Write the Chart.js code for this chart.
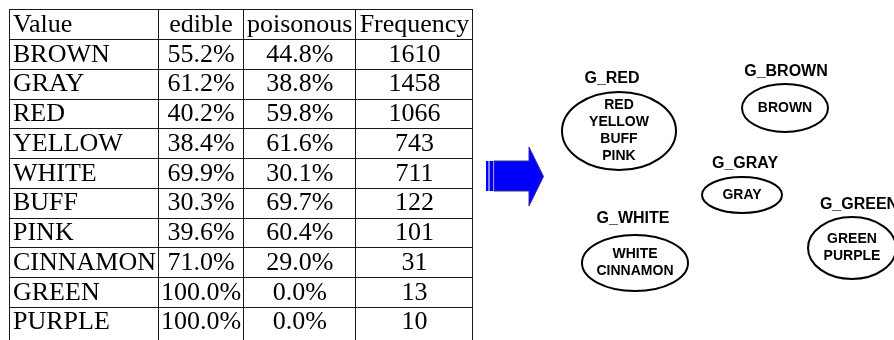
<!DOCTYPE html>
<html>
<head>
<meta charset="utf-8">
<script src="https://cdn.jsdelivr.net/npm/chart.js@4/dist/chart.umd.min.js"></script>
<style>
  html, body { margin: 0; padding: 0; background: #fff; }
  canvas { display: block; }
</style>
</head>
<body>
<canvas id="chart" width="894" height="340"></canvas>
<script>
// table data
const headers = ["Value", "edible", "poisonous", "Frequency"];
const colorValues = ["BROWN", "GRAY", "RED", "YELLOW", "WHITE", "BUFF", "PINK", "CINNAMON", "GREEN", "PURPLE"];
const edible = [55.2, 61.2, 40.2, 38.4, 69.9, 30.3, 39.6, 71.0, 100.0, 100.0];
const poisonous = [44.8, 38.8, 59.8, 61.6, 30.1, 69.7, 60.4, 29.0, 0.0, 0.0];
const frequency = [1610, 1458, 1066, 743, 711, 122, 101, 31, 13, 10];

// grouping data
const groupNames = ["G_RED", "G_BROWN", "G_GRAY", "G_WHITE", "G_GREEN"];
const groupMembers = [
  ["RED", "YELLOW", "BUFF", "PINK"],
  ["BROWN"],
  ["GRAY"],
  ["WHITE", "CINNAMON"],
  ["GREEN", "PURPLE"],
];

// layout (canvas units, mapped through the hidden linear scales)
const colEdges = [9, 157.5, 242.5, 355, 472];
const rowTop = 9.3;
const rowHeight = 29.75;
const groupShapes = [
  { cx: 619, cy: 131, rx: 57, ry: 39, lx: 612, ly: 79 },
  { cx: 785, cy: 108, rx: 43, ry: 24, lx: 786, ly: 72 },
  { cx: 742, cy: 195, rx: 40, ry: 18, lx: 745, ly: 164 },
  { cx: 635, cy: 263, rx: 53, ry: 28, lx: 633, ly: 219 },
  { cx: 852, cy: 248, rx: 44, ry: 31, lx: 859, ly: 205 },
];
const arrowShape = [[529, 161], [529, 147], [543.5, 176.5], [529, 206], [529, 191], [494, 191], [494, 161]];
const arrowStripes = [[486, 2.5], [489.5, 3.5]];

const fmt = (v) => v.toFixed(1) + "%";

const drawPlugin = {
  id: "drawPlugin",
  afterDraw: (chart) => {
    const c = chart.ctx;
    const xs = chart.scales.x;
    const ys = chart.scales.y;
    const X = (v) => xs.getPixelForValue(v);
    const Y = (v) => ys.getPixelForValue(v);
    const snap = (p) => Math.round(p) + 0.5;

    c.save();
    // table grid
    c.strokeStyle = "#1a1a1a";
    c.lineWidth = 1;
    const rows = [headers].concat(
      colorValues.map((name, i) => [name, fmt(edible[i]), fmt(poisonous[i]), String(frequency[i])])
    );
    rows.forEach((row, r) => {
      const top = rowTop + r * rowHeight;
      c.beginPath();
      c.moveTo(X(colEdges[0]), snap(Y(top)));
      c.lineTo(X(colEdges[colEdges.length - 1]) + 1, snap(Y(top)));
      c.stroke();
    });
    colEdges.forEach((e) => {
      c.beginPath();
      c.moveTo(snap(X(e)), Y(rowTop));
      c.lineTo(snap(X(e)), Y(340));
      c.stroke();
    });

    // table text
    c.fillStyle = "#000";
    c.font = "26px 'Liberation Serif'";
    c.textBaseline = "alphabetic";
    rows.forEach((row, r) => {
      const base = Y(rowTop + r * rowHeight + 22.5);
      row.forEach((txt, k) => {
        if (k === 0) {
          c.textAlign = "left";
          c.fillText(txt, X(colEdges[0] + 4), base);
        } else {
          c.textAlign = "center";
          c.fillText(txt, (X(colEdges[k]) + X(colEdges[k + 1])) / 2 + 1, base);
        }
      });
    });

    // arrow
    c.fillStyle = "#0000ff";
    c.strokeStyle = "#3a2aa0";
    c.lineWidth = 1;
    c.beginPath();
    arrowShape.forEach(([ax, ay], i) => {
      if (i === 0) c.moveTo(X(ax), Y(ay));
      else c.lineTo(X(ax), Y(ay));
    });
    c.closePath();
    c.fill();
    c.stroke();
    arrowStripes.forEach(([sx, w]) => {
      c.fillRect(X(sx), Y(161), w, Y(191) - Y(161));
    });

    // groups
    c.strokeStyle = "#000";
    c.fillStyle = "#000";
    c.lineWidth = 2;
    c.textAlign = "center";
    c.textBaseline = "middle";
    groupNames.forEach((name, g) => {
      const s = groupShapes[g];
      c.beginPath();
      c.ellipse(X(s.cx), Y(s.cy), s.rx, s.ry, 0, 0, Math.PI * 2);
      c.stroke();
      c.font = "bold 16px 'Liberation Sans'";
      c.fillText(name, X(s.lx), Y(s.ly));
      c.font = "bold 14px 'Liberation Sans'";
      const members = groupMembers[g];
      const lh = 17;
      members.forEach((m, i) => {
        const my = s.cy + (i - (members.length - 1) / 2) * lh;
        c.fillText(m, X(s.cx), Y(my));
      });
    });
    c.restore();
  },
};

const ctx = document.getElementById("chart").getContext("2d");
new Chart(ctx, {
  type: "scatter",
  data: {
    datasets: [
      {
        data: groupShapes.map((s) => ({ x: s.cx, y: s.cy })),
        pointRadius: 0,
      },
    ],
  },
  options: {
    responsive: false,
    animation: false,
    layout: { padding: 0 },
    plugins: { legend: { display: false }, tooltip: { enabled: false } },
    scales: {
      x: { type: "linear", min: 0, max: 894, display: false },
      y: { type: "linear", min: 0, max: 340, reverse: true, display: false },
    },
  },
  plugins: [drawPlugin],
});
</script>
</body>
</html>
